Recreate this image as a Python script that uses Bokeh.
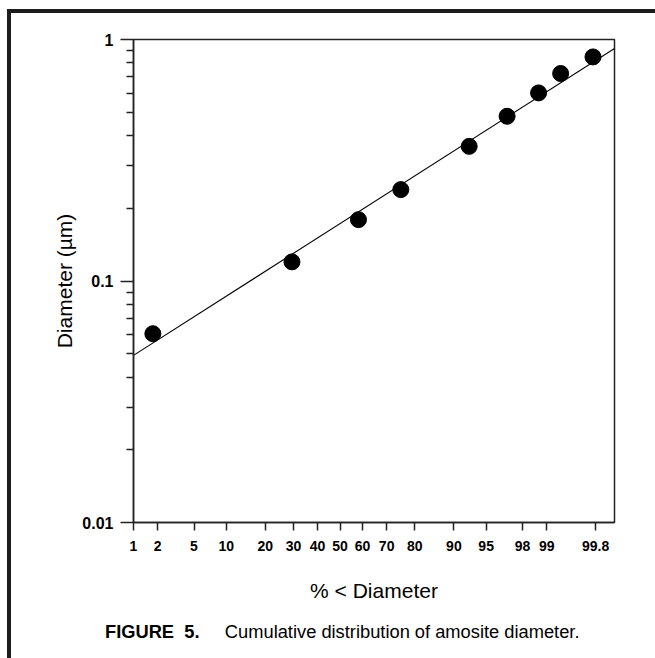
from statistics import NormalDist
from bokeh.plotting import figure
from bokeh.layouts import column
from bokeh.models import FixedTicker, ColumnDataSource, Range1d, Div
from bokeh.embed import file_html
from bokeh.resources import INLINE

# ---- data ----
cum_pct = [1.75, 29.4, 58.2, 75.3, 92.7, 97.0, 98.73, 99.35, 99.78]
diameter_um = [0.0605, 0.120, 0.1795, 0.239, 0.361, 0.481, 0.601, 0.723, 0.847]

fit_pct = [1.0, 99.9]
fit_diam = [0.0492, 0.918]

x_tick_pct = [1, 2, 5, 10, 20, 30, 40, 50, 60, 70, 80, 90, 95, 98, 99, 99.8]
x_tick_labels = ["1", "2", "5", "10", "20", "30", "40", "50", "60", "70", "80",
                 "90", "95", "98", "99", "99.8"]
y_ticks = [0.01, 0.1, 1]
y_tick_labels = ["0.01", "0.1", "1"]
x_range_pct = [1.0, 99.9]
y_range = [0.01, 1.0]

nd = NormalDist()
def probit(p):
    return round(nd.inv_cdf(p / 100.0), 6)

src = ColumnDataSource(dict(z=[probit(v) for v in cum_pct], d=diameter_um))
fit_src = ColumnDataSource(dict(z=[probit(v) for v in fit_pct], d=fit_diam))

W, H = 644, 600
p = figure(width=W, height=H, output_backend="svg", toolbar_location=None,
           y_axis_type="log",
           x_range=Range1d(probit(x_range_pct[0]), probit(x_range_pct[1])),
           y_range=Range1d(y_range[0], y_range[1]),
           min_border_left=122, min_border_right=41,
           min_border_top=26, min_border_bottom=91)

p.grid.visible = False
p.outline_line_color = "#222222"
p.outline_line_width = 1.5
p.background_fill_color = "white"
p.border_fill_color = "white"

# fitted line and points
p.line("z", "d", source=fit_src, line_color="black", line_width=1.1)
p.scatter("z", "d", source=src, size=16, fill_color="black", line_color="black")

# x axis (probability scale)
xt = [probit(v) for v in x_tick_pct]
p.xaxis.ticker = FixedTicker(ticks=xt, minor_ticks=[])
p.xaxis.major_label_overrides = {t: l for t, l in zip(xt, x_tick_labels)}
p.xaxis.major_tick_out = 8
p.xaxis.major_tick_in = 0
p.xaxis.minor_tick_out = 0
p.xaxis.minor_tick_in = 0
p.xaxis.axis_line_width = 1.5
p.xaxis.axis_line_color = "#222222"
p.xaxis.major_tick_line_width = 1.5
p.xaxis.major_tick_line_color = "#222222"
p.xaxis.major_label_text_font = "Liberation Sans"
p.xaxis.major_label_text_font_style = "bold"
p.xaxis.major_label_text_font_size = "14px"
p.xaxis.major_label_text_color = "black"
p.xaxis.major_label_standoff = 10
p.xaxis.axis_label = "% < Diameter"
p.xaxis.axis_label_text_font = "Liberation Sans"
p.xaxis.axis_label_text_font_style = "normal"
p.xaxis.axis_label_text_font_size = "21px"
p.xaxis.axis_label_text_color = "black"
p.xaxis.axis_label_standoff = 25

# y axis (log)
minor = [k * 10.0 ** e for e in (-2, -1) for k in range(2, 10)]
p.yaxis.ticker = FixedTicker(ticks=y_ticks, minor_ticks=minor)
p.yaxis.major_label_overrides = {t: l for t, l in zip(y_ticks, y_tick_labels)}
p.yaxis.major_tick_out = 13
p.yaxis.major_tick_in = 0
p.yaxis.minor_tick_out = 7
p.yaxis.minor_tick_in = 0
p.yaxis.axis_line_width = 1.5
p.yaxis.axis_line_color = "#222222"
p.yaxis.major_tick_line_width = 1.5
p.yaxis.minor_tick_line_width = 1.5
p.yaxis.major_tick_line_color = "#222222"
p.yaxis.minor_tick_line_color = "#222222"
p.yaxis.major_label_text_font = "Liberation Sans"
p.yaxis.major_label_text_font_style = "bold"
p.yaxis.major_label_text_font_size = "16px"
p.yaxis.major_label_text_color = "black"
p.yaxis.major_label_standoff = 7
p.yaxis.axis_label = "Diameter (\u00b5m)"
p.yaxis.axis_label_text_font = "Liberation Sans"
p.yaxis.axis_label_text_font_style = "normal"
p.yaxis.axis_label_text_font_size = "21px"
p.yaxis.axis_label_text_color = "black"
p.yaxis.axis_label_standoff = 3

caption = Div(
    text='<span style="font-weight:bold">FIGURE&nbsp;&nbsp;5.</span>'
         '&nbsp;&nbsp;&nbsp;&nbsp;&nbsp;Cumulative distribution of amosite diameter.',
    width=W, height=40,
    styles={"font-family": "Liberation Sans", "font-size": "18.3px",
            "color": "black", "padding-left": "89px", "padding-top": "1px"})

layout = column(p, caption, spacing=0,
                styles={"margin-left": "7px", "margin-top": "9px",
                        "border-left": "4px solid #1c1c1c",
                        "border-top": "4px solid #1c1c1c",
                        "background-color": "white"})

open("out.html", "w").write(file_html(layout, INLINE))
